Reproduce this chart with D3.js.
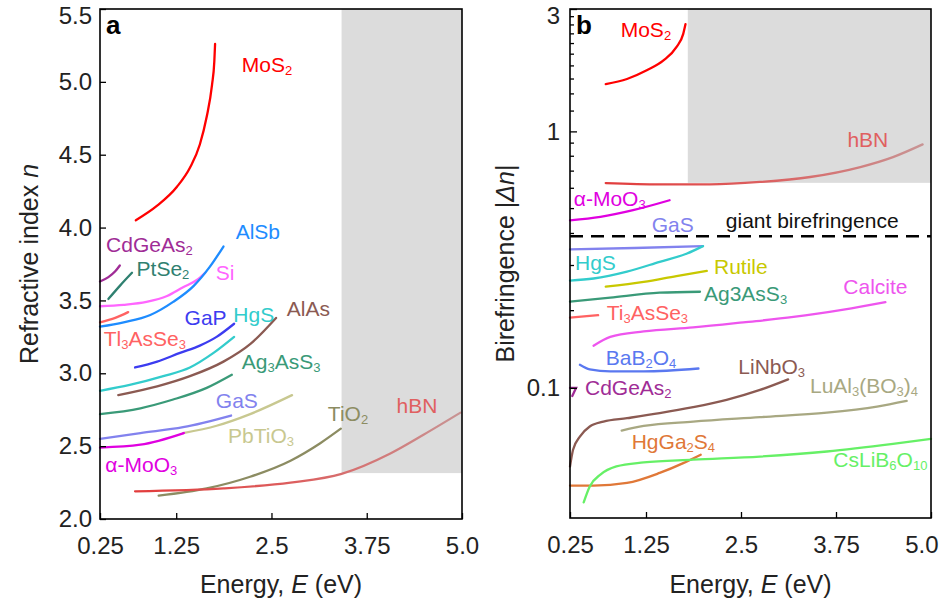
<!DOCTYPE html>
<html>
<head>
<meta charset="utf-8">
<script src="https://cdn.jsdelivr.net/npm/d3@7"></script>
<style>
  body { margin: 0; background: #fff; }
  svg { display: block; font-family: "Liberation Sans", Arial, sans-serif; }
</style>
</head>
<body>
<div id="chart"></div>
<script>
// ---- panel a: refractive index n vs photon energy (eV) ----
const mos2A = [[0.72, 4.05], [1.0, 4.15], [1.26, 4.28], [1.43, 4.41], [1.56, 4.57], [1.65, 4.76], [1.72, 4.98], [1.75, 5.14], [1.76, 5.26]];
const cdgeas2A = [[0.25, 3.63], [0.36, 3.66], [0.45, 3.7], [0.51, 3.74]];
const ptse2A = [[0.36, 3.51], [0.51, 3.6], [0.67, 3.69]];
const siA = [[0.25, 3.46], [0.56, 3.47], [0.86, 3.49], [1.13, 3.53], [1.34, 3.59], [1.52, 3.64], [1.63, 3.69]];
const alsbA = [[0.25, 3.32], [0.56, 3.35], [0.91, 3.4], [1.21, 3.49], [1.48, 3.6], [1.69, 3.73], [1.87, 3.87]];
const tl3asse3A = [[0.25, 3.35], [0.45, 3.38], [0.62, 3.42]];
const gapA = [[0.71, 3.04], [1.0, 3.08], [1.3, 3.14], [1.56, 3.19], [1.78, 3.25], [2.01, 3.34]];
const hgsA = [[0.25, 2.88], [0.64, 2.92], [1.08, 2.98], [1.43, 3.04], [1.74, 3.14], [2.01, 3.25]];
const alasA = [[0.49, 2.85], [1.0, 2.91], [1.43, 2.98], [1.87, 3.08], [2.22, 3.2], [2.56, 3.38]];
const ag3ass3A = [[0.25, 2.72], [0.78, 2.76], [1.21, 2.82], [1.65, 2.9], [1.98, 2.99]];
const gasA = [[0.25, 2.55], [0.78, 2.59], [1.34, 2.63], [1.97, 2.71]];
const pbtio3A = [[1.34, 2.59], [1.78, 2.64], [2.22, 2.72], [2.77, 2.85]];
const moo3A = [[0.25, 2.49], [0.78, 2.51], [1.35, 2.59]];
const tio2A = [[1.02, 2.16], [1.65, 2.21], [2.22, 2.29], [2.75, 2.4], [3.14, 2.52], [3.41, 2.62]];
const hbnA = [[0.71, 2.19], [1.87, 2.21], [2.75, 2.25], [3.42, 2.31], [4.06, 2.45], [4.5, 2.58], [4.98, 2.73]];

// ---- panel b: birefringence |dn| vs energy (eV) ----
const mos2B = [[0.72, 1.53], [1.0, 1.6], [1.26, 1.73], [1.48, 1.89], [1.65, 2.13], [1.74, 2.4], [1.77, 2.62]];
const hbnB = [[0.72, 0.629], [1.43, 0.622], [2.09, 0.622], [2.75, 0.635], [3.41, 0.664], [4.07, 0.726], [4.5, 0.794], [4.89, 0.89]];
const moo3B = [[0.25, 0.45], [0.65, 0.464], [1.08, 0.493], [1.56, 0.539]];
const gasB = [[0.25, 0.347], [1.1, 0.351], [2.0, 0.357]];
const hgsB = [[0.25, 0.262], [0.56, 0.267], [1.0, 0.284], [1.43, 0.31], [1.79, 0.334], [2.0, 0.357]];
const rutileB = [[0.72, 0.248], [1.22, 0.259], [1.65, 0.273], [2.05, 0.286]];
const ag3ass3B = [[0.25, 0.217], [0.78, 0.225], [1.43, 0.235], [1.96, 0.237]];
const tl3asse3B = [[0.25, 0.188], [0.62, 0.192]];
const calciteB = [[0.56, 0.146], [0.78, 0.158], [1.22, 0.166], [1.87, 0.172], [2.53, 0.18], [3.19, 0.189], [3.85, 0.202], [4.4, 0.216]];
const bab2o4B = [[0.38, 0.123], [0.51, 0.118], [0.78, 0.116], [1.22, 0.116], [1.94, 0.119]];
const cdgeas2B = [[0.25, 0.1], [0.33, 0.1], [0.28, 0.093]];
const linbo3B = [[0.25, 0.0494], [0.29, 0.0574], [0.38, 0.0646], [0.51, 0.0707], [0.69, 0.0739], [1.0, 0.0762], [1.43, 0.0797], [1.87, 0.0841], [2.31, 0.0898], [2.75, 0.0982], [3.12, 0.108]];
const luabB = [[0.93, 0.0682], [1.22, 0.0711], [1.87, 0.0739], [2.75, 0.0769], [3.63, 0.0801], [4.29, 0.0846], [4.68, 0.089]];
const hgga2s4B = [[0.25, 0.0416], [0.56, 0.0416], [1.0, 0.0426], [1.43, 0.0466], [1.74, 0.0509], [1.97, 0.0549]];
const cslib6o10B = [[0.43, 0.0358], [0.51, 0.0413], [0.65, 0.0459], [0.86, 0.0494], [1.22, 0.0512], [1.87, 0.0525], [2.75, 0.054], [3.63, 0.0565], [4.5, 0.0605], [5.0, 0.0633]];

// ticks / regions
const xTicks = [0.25, 1.25, 2.5, 3.75, 5.0];
const xTickText = ["0.25", "1.25", "2.5", "3.75", "5.0"];
const yTicksA = [2.0, 2.5, 3.0, 3.5, 4.0, 4.5, 5.0, 5.5];
const yTicksB = [0.1, 1, 3];
const yMinorB = [0.2, 0.3, 0.4, 0.5, 0.6, 0.7, 0.8, 0.9, 1.2, 1.4, 1.6, 1.8, 2.0, 2.2, 2.4, 2.6, 2.8];
const greyA = { e0: 3.42, n0: 2.315 };
const greyB = { e0: 1.8, v0: 0.63 };
const giantLimit = 0.39;

// labels: [text, E, value, colour key]   ("_" + digits = subscript)
const labelsA = [
  ["MoS_2", 2.11, 5.07, "mos2"], ["CdGeAs_2", 0.33, 3.83, "cdgeas2"], ["AlSb", 2.03, 3.92, "alsb"],
  ["PtSe_2", 0.73, 3.67, "ptse2"], ["Si", 1.77, 3.64, "si"], ["GaP", 1.36, 3.33, "gap"],
  ["HgS", 2.0, 3.35, "hgs"], ["AlAs", 2.7, 3.39, "alas"], ["Tl_3AsSe_3", 0.3, 3.185, "tl3asse3"],
  ["Ag_3AsS_3", 2.11, 3.03, "ag3ass3"], ["GaS", 1.77, 2.76, "gas"], ["PbTiO_3", 1.93, 2.52, "pbtio3"],
  ["TiO_2", 3.24, 2.67, "tio2"], ["hBN", 4.14, 2.73, "hbnText"], ["α-MoO_3", 0.32, 2.32, "moo3"]
];
const labelsB = [
  ["MoS_2", 0.917, 2.33, "mos2"], ["hBN", 3.9, 0.869, "hbnText"], ["α-MoO_3", 0.3, 0.512, "moo3"],
  ["GaS", 1.325, 0.406, "gas"], ["giant birefringence", 2.3, 0.4205, "black"],
  ["HgS", 0.316, 0.288, "hgs"], ["Rutile", 2.145, 0.277, "rutile"], ["Ag3AsS_3", 2.013, 0.218, "ag3ass3"],
  ["Calcite", 3.846, 0.232, "calcite"], ["Ti_3AsSe_3", 0.733, 0.184, "tl3asse3"],
  ["BaB_2O_4", 0.72, 0.1229, "bab2o4"], ["LiNbO_3", 2.465, 0.1133, "linbo3"],
  ["CdGeAs_2", 0.447, 0.0939, "cdgeas2"], ["LuAl_3(BO_3)_4", 3.408, 0.0959, "luab"],
  ["HgGa_2S_4", 1.062, 0.0577, "hgga2s4"], ["CsLiB_6O_10", 3.715, 0.0491, "cslib6o10"]
];

const colors = {
  mos2: "#ff0000", cdgeas2: "#a02c96", ptse2: "#2f8070", si: "#ff66ff", alsb: "#1e8cff",
  tl3asse3: "#ff6262", gap: "#3c3cf0", hgs: "#33cccc", alas: "#8b5a52", ag3ass3: "#3a9a78",
  gas: "#8282ee", pbtio3: "#c8c890", moo3: "#e000e0", tio2: "#8c8c62", hbnText: "#e06060",
  rutile: "#c8c800", calcite: "#ee55ee", bab2o4: "#5a78f0", linbo3: "#8b5a52",
  luab: "#a8a882", hgga2s4: "#e07838", cslib6o10: "#66f066", black: "#111"
};

const seriesA = [
  ["mos2", mos2A], ["cdgeas2", cdgeas2A], ["ptse2", ptse2A], ["si", siA], ["alsb", alsbA],
  ["tl3asse3", tl3asse3A], ["gap", gapA], ["hgs", hgsA], ["alas", alasA], ["ag3ass3", ag3ass3A],
  ["gas", gasA], ["pbtio3", pbtio3A], ["moo3", moo3A], ["tio2", tio2A], ["hbn", hbnA]
];
const seriesB = [
  ["mos2", mos2B], ["hbn", hbnB], ["moo3", moo3B], ["gas", gasB], ["hgs", hgsB],
  ["rutile", rutileB], ["ag3ass3", ag3ass3B], ["tl3asse3", tl3asse3B], ["calcite", calciteB],
  ["bab2o4", bab2o4B], ["cdgeas2", cdgeas2B], ["linbo3", linbo3B], ["luab", luabB],
  ["hgga2s4", hgga2s4B], ["cslib6o10", cslib6o10B]
];

const width = 941, height = 612;
const svg = d3.select("#chart").append("svg").attr("width", width).attr("height", height);

const xA = d3.scaleLinear().domain([0.25, 5]).range([100, 462]);
const yA = d3.scaleLinear().domain([2, 5.5]).range([519, 9]);
const xB = d3.scaleLinear().domain([0.25, 5]).range([570, 931]);
const yB = d3.scaleLog().domain([0.0311, 3]).range([518, 9]);

// gradient for hBN (fades to pinkish brown)
const defs = svg.append("defs");
function hbnGradient(id, x1, x2) {
  const g = defs.append("linearGradient").attr("id", id)
    .attr("gradientUnits", "userSpaceOnUse")
    .attr("x1", x1).attr("x2", x2).attr("y1", 0).attr("y2", 0);
  g.append("stop").attr("offset", 0).attr("stop-color", "#e23c3c");
  g.append("stop").attr("offset", 0.5).attr("stop-color", "#dc6060");
  g.append("stop").attr("offset", 1).attr("stop-color", "#c89494");
}
hbnGradient("hbnA", xA(hbnA[0][0]), xA(hbnA[hbnA.length - 1][0]));
hbnGradient("hbnB", xB(hbnB[0][0]), xB(hbnB[hbnB.length - 1][0]));

function addLabel(g, text, x, y, color, size) {
  const t = g.append("text").attr("x", x).attr("y", y).attr("fill", color).style("font-size", size + "px");
  const parts = text.split(/_(\d+)/);
  const subSize = Math.round(size * 0.62) + "px";
  let shifted = false;
  parts.forEach((p, i) => {
    if (!p) return;
    const sub = i % 2 === 1;
    const ts = t.append("tspan").text(p);
    if (sub) {
      ts.style("font-size", subSize);
      if (!shifted) { ts.attr("dy", 3); shifted = true; }
    } else if (shifted) {
      ts.attr("dy", -3);
      shifted = false;
    }
  });
}

function drawPanel(opts) {
  const { x, y, series, labels, grad, letter, yTitle } = opts;
  const g = svg.append("g");
  const [x0, x1] = x.range();
  const [y0, y1] = y.range();

  // grey region
  g.append("rect")
    .attr("x", x(opts.greyE)).attr("y", y1)
    .attr("width", x1 - x(opts.greyE)).attr("height", y(opts.greyV) - y1)
    .attr("fill", "#dcdcdc");

  const line = d3.line().x(d => x(d[0])).y(d => y(d[1]));
  series.forEach(([key, data]) => {
    const curve = key === "cdgeas2" && opts.panel === "b" ? d3.curveLinear : d3.curveMonotoneX;
    g.append("path")
      .attr("d", line.curve(curve)(data))
      .attr("fill", "none")
      .attr("stroke", key === "hbn" ? `url(#${grad})` : colors[key])
      .attr("stroke-width", 2.3)
      .attr("stroke-linecap", "round");
  });

  if (opts.dash) {
    g.append("line")
      .attr("x1", x0).attr("x2", x1)
      .attr("y1", y(opts.dash)).attr("y2", y(opts.dash))
      .attr("stroke", "#000").attr("stroke-width", 2.6)
      .attr("stroke-dasharray", "13,8");
  }

  labels.forEach(([text, e, v, key]) => addLabel(g, text, x(e), y(v), colors[key], 21));

  // axes with inward ticks
  const xAxis = g.append("g").attr("transform", `translate(0,${y0})`)
    .call(d3.axisBottom(x).tickValues(xTicks).tickSize(-6).tickPadding(18)
      .tickFormat((d, i) => xTickText[i]));
  const yAxisG = g.append("g").attr("transform", `translate(${x0},0)`);
  if (opts.panel === "a") {
    yAxisG.call(d3.axisLeft(y).tickValues(yTicksA).tickSize(-6).tickPadding(8).tickFormat(d3.format(".1f")));
  } else {
    yAxisG.call(d3.axisLeft(y).tickValues(yTicksB).tickSize(-7).tickPadding(10).tickFormat(d => String(d)));
    yAxisG.selectAll(".minor").data(yMinorB).enter().append("line")
      .attr("x1", 0).attr("x2", 4).attr("y1", d => y(d)).attr("y2", d => y(d))
      .attr("stroke", "#000").attr("stroke-width", 1.3);
  }
  [xAxis, yAxisG].forEach(a => {
    a.select(".domain").remove();
    a.selectAll(".tick line").attr("stroke", "#000").attr("stroke-width", 1.3);
    a.selectAll("text").style("font-size", "24px").attr("fill", "#222")
      .style("font-family", "'Liberation Sans', Arial, sans-serif");
  });
  // keep the top label inside the picture
  yAxisG.selectAll(".tick").filter(d => Math.abs(y(d) - y1) < 1).select("text").attr("dy", "0.62em");
  // right-most x label pulled in so it is not cut at the page edge
  if (opts.panel === "b") {
    xAxis.selectAll(".tick").filter(d => d === 5).select("text").attr("text-anchor", "end").attr("x", 7);
  }

  // frame
  g.append("rect").attr("x", x0).attr("y", y1).attr("width", x1 - x0).attr("height", y0 - y1)
    .attr("fill", "none").attr("stroke", "#000").attr("stroke-width", 1.6);

  g.append("text").attr("x", x0 + 6).attr("y", y1 + 25)
    .style("font-size", "26px").style("font-weight", "bold").text(letter);

  // axis titles
  const xt = g.append("text").attr("x", (x0 + x1) / 2).attr("y", 593)
    .attr("text-anchor", "middle").style("font-size", "25px").attr("fill", "#222");
  xt.append("tspan").text("Energy, ");
  xt.append("tspan").style("font-style", "italic").text("E");
  xt.append("tspan").text(" (eV)");

  const yt = g.append("text")
    .attr("transform", `translate(${opts.yTitleX},${(y0 + y1) / 2}) rotate(-90)`)
    .attr("text-anchor", "middle").style("font-size", "25px").attr("fill", "#222");
  yTitle.forEach(([t, it]) => yt.append("tspan").style("font-style", it ? "italic" : "normal").text(t));
}

drawPanel({
  panel: "a", x: xA, y: yA, series: seriesA, labels: labelsA, grad: "hbnA", letter: "a",
  greyE: greyA.e0, greyV: greyA.n0, yTitleX: 38,
  yTitle: [["Refractive index ", false], ["n", true]]
});
drawPanel({
  panel: "b", x: xB, y: yB, series: seriesB, labels: labelsB, grad: "hbnB", letter: "b",
  greyE: greyB.e0, greyV: greyB.v0, yTitleX: 514, dash: giantLimit,
  yTitle: [["Birefringence |", false], ["Δn", true], ["|", false]]
});
</script>
</body>
</html>
